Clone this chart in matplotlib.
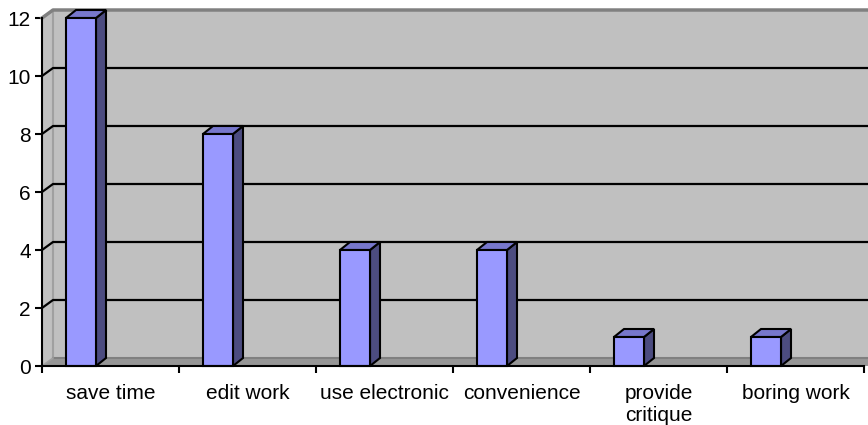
import matplotlib
matplotlib.use("Agg")
import matplotlib.pyplot as plt
from matplotlib.patches import Polygon, Rectangle

plt.rcParams['font.family'] = ['Liberation Sans', 'DejaVu Sans']

# datos
categorias = ['save time', 'edit work', 'use electronic', 'convenience',
              'provide\ncritique', 'boring work']
valores = [12, 8, 4, 4, 1, 1]
yticks = [0, 2, 4, 6, 8, 10, 12]

W, H = 868, 425
fig = plt.figure(figsize=(W / 100, H / 100), dpi=100)
# plano frontal: x 42..864 px, y 366..18 px
ax = fig.add_axes([42 / W, (H - 366) / H, 822 / W, 348 / H])
ax.set_xlim(0, len(categorias))
ax.set_ylim(0, 12)
ax.patch.set_alpha(0)

# px -> unidades de datos
ux = len(categorias) / 822
uy = 12 / 348
wdx, wdy = 11 * ux, 8 * uy      # profundidad de la pared
bdx, bdy = 10 * ux, 8 * uy      # profundidad de la barra
xmax = len(categorias)

gris = '#c0c0c0'
gris_osc = '#808080'

# pared del fondo
ax.add_patch(Rectangle((wdx, wdy), xmax + 1, 12, facecolor=gris,
                       edgecolor='none', zorder=1, clip_on=False))
# pared izquierda
ax.add_patch(Polygon([(0, 0), (wdx, wdy), (wdx, 12 + wdy), (0, 12)],
                     closed=True, facecolor=gris, edgecolor='none',
                     zorder=1, clip_on=False))
ax.plot([wdx, wdx], [wdy, 12 + wdy], color='#a0a0a0', lw=1.5, zorder=2,
        clip_on=False)
# borde superior
ax.plot([0, wdx, xmax + 1], [12, 12 + wdy, 12 + wdy], color=gris_osc,
        lw=2.5, zorder=2, clip_on=False)
# suelo
ax.add_patch(Polygon([(0, 0), (wdx, wdy), (xmax + 1, wdy), (xmax + 1, 0)],
                     closed=True, facecolor='#969696', edgecolor='none',
                     zorder=2, clip_on=False))
ax.plot([wdx, xmax + 1], [wdy, wdy], color=gris_osc, lw=1.5, zorder=2,
        clip_on=False)
ax.plot([0, wdx], [0, wdy], color='#a0a0a0', lw=1.2, zorder=2, clip_on=False)

# lineas de division
for v in yticks[1:-1]:
    ax.plot([0, wdx, xmax + 1], [v, v + wdy, v + wdy], color='black',
            lw=1.6, zorder=2, clip_on=False)

# barras
ancho = 30 * ux
for i, v in enumerate(valores):
    x0 = i + 24 * ux
    x1 = x0 + ancho
    ax.add_patch(Polygon([(x1, 0), (x1 + bdx, bdy), (x1 + bdx, v + bdy), (x1, v)],
                         closed=True, facecolor='#4c4c80', edgecolor='black',
                         lw=1.5, zorder=4, clip_on=False))
    ax.add_patch(Polygon([(x0, v), (x1, v), (x1 + bdx, v + bdy), (x0 + bdx, v + bdy)],
                         closed=True, facecolor='#7777cc', edgecolor='black',
                         lw=1.5, zorder=4, clip_on=False))
    ax.add_patch(Rectangle((x0, 0), ancho, v, facecolor='#9999ff',
                           edgecolor='black', lw=1.5, zorder=5, clip_on=False))

# ejes
for s in ['top', 'right']:
    ax.spines[s].set_visible(False)
for s in ['left', 'bottom']:
    ax.spines[s].set_linewidth(1.5)
    ax.spines[s].set_zorder(6)

ax.set_yticks(yticks)
ax.set_yticklabels([str(t) for t in yticks], fontsize=15)
ax.set_xticks(range(len(categorias) + 1))
ax.set_xticklabels([])
ax.set_xticks([i + 0.5 for i in range(len(categorias))], minor=True)
ax.set_xticklabels(categorias, minor=True, fontsize=15, linespacing=1.2,
                   va='top')
ax.tick_params(axis='both', which='major', direction='out', length=5,
               width=1.5, pad=3)
ax.tick_params(axis='x', which='minor', length=0, pad=13)

fig.savefig('out.png', dpi=100)
